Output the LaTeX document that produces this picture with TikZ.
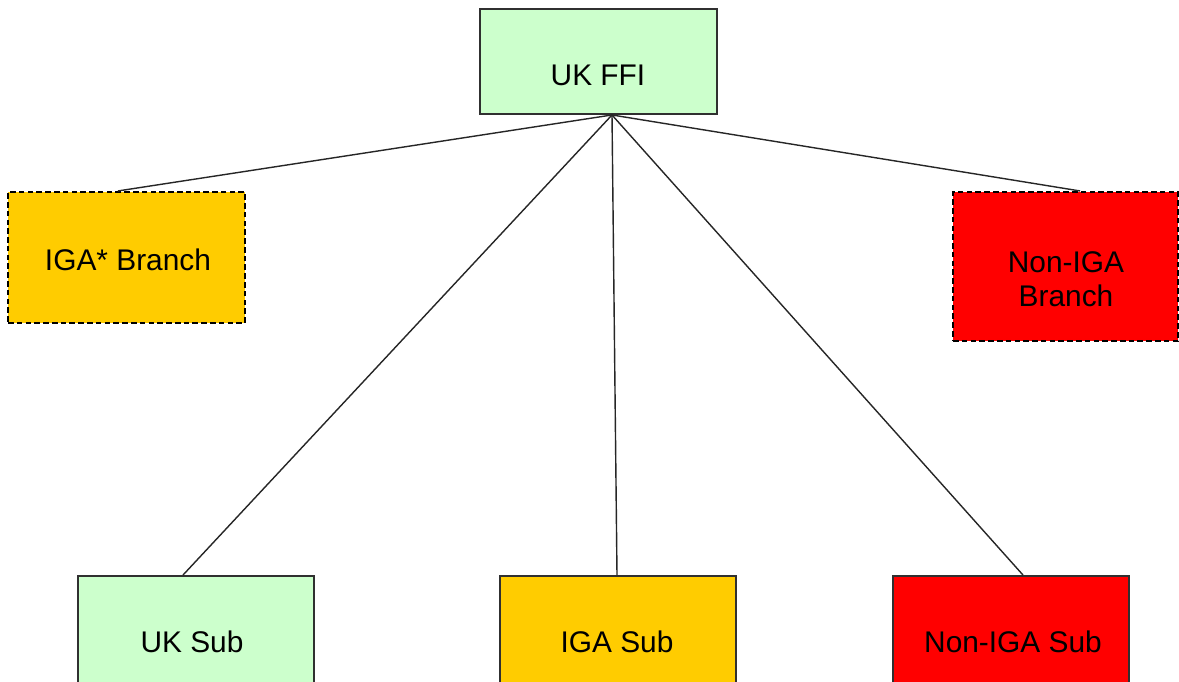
\documentclass[tikz,border=0pt]{standalone}
\usepackage{fontspec}
\setmainfont{Liberation Sans}
\definecolor{ukgreen}{HTML}{CCFFCC}
\definecolor{igaorange}{HTML}{FFCC00}
\definecolor{nonred}{HTML}{FF0000}
\definecolor{border}{HTML}{303030}
\begin{document}
\begin{tikzpicture}[x=0.02cm,y=-0.02cm,
  box/.style={draw=border,line width=1.1pt,inner sep=0pt,rectangle},
  dashedbox/.style={box,draw=black,line width=1.2pt,dash pattern=on 3.2pt off 1.8pt},
  lbl/.style={inner sep=0pt,align=center,text=black,font=\fontsize{17}{19.5}\selectfont},
  conn/.style={draw=black!85,line width=0.8pt}]
\useasboundingbox (0,0) rectangle (1179,681);
\clip (0,0) rectangle (1179,681);
% boxes
\node[box,fill=ukgreen,minimum width=237*0.02cm,minimum height=105*0.02cm] (ffi) at (598.5,61.5) {};
\node[dashedbox,fill=igaorange,minimum width=237*0.02cm,minimum height=131*0.02cm] (igab) at (126.5,257.5) {};
\node[dashedbox,fill=nonred,minimum width=225*0.02cm,minimum height=149*0.02cm] (nonb) at (1065.5,266.5) {};
\node[box,fill=ukgreen,minimum width=236*0.02cm,minimum height=110*0.02cm] (uksub) at (196,631) {};
\node[box,fill=igaorange,minimum width=236*0.02cm,minimum height=110*0.02cm] (igasub) at (618,631) {};
\node[box,fill=nonred,minimum width=236*0.02cm,minimum height=110*0.02cm] (nonsub) at (1011,631) {};
% labels
\node[lbl] (tffi) at (598,75) {UK FFI};
\node[lbl] (tigab) at (128,260) {IGA* Branch};
\node[lbl] (tnonb) at (1066,279) {Non-IGA\\Branch};
\node[lbl] (tuksub) at (192,642) {UK Sub};
\node[lbl] (tigasub) at (617,642) {IGA Sub};
\node[lbl] (tnonsub) at (1013,642) {Non-IGA Sub};
% connectors
\coordinate (hub) at ([xshift=13.5*0.02cm]ffi.south);
\draw[conn] (hub) -- ([xshift=-8.5*0.02cm]igab.north);
\draw[conn] (hub) -- ([xshift=14.5*0.02cm]nonb.north);
\draw[conn] (hub) -- ([xshift=-13*0.02cm]uksub.north);
\draw[conn] (hub) -- ([xshift=-1*0.02cm]igasub.north);
\draw[conn] (hub) -- ([xshift=12*0.02cm]nonsub.north);
\end{tikzpicture}
\end{document}
